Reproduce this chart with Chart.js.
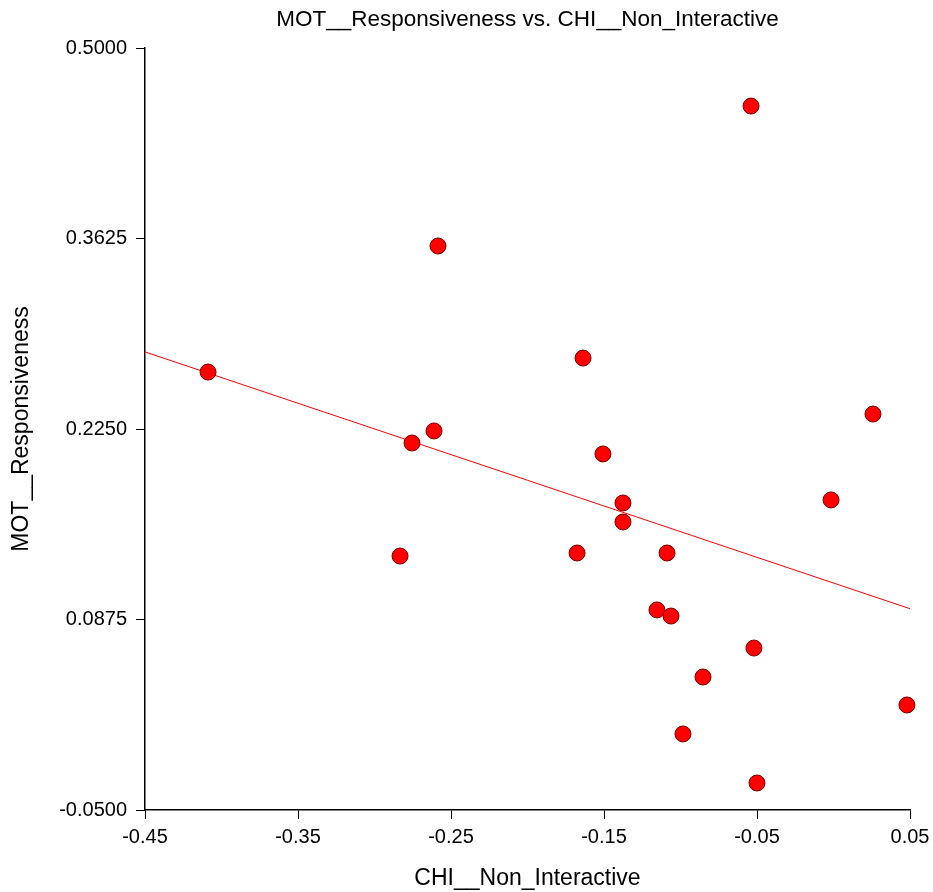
<!DOCTYPE html>
<html>
<head>
<meta charset="utf-8">
<title>MOT__Responsiveness vs. CHI__Non_Interactive</title>
<script src="https://cdn.jsdelivr.net/npm/chart.js@4.4.1/dist/chart.umd.min.js"></script>
<style>
  html, body { margin: 0; padding: 0; background: #fff; }
  #wrap { width: 933px; height: 892px; }
</style>
</head>
<body>
<div id="wrap"><canvas id="scatterChart" width="933" height="892"></canvas></div>
<script>
// 데이터
const chiNonInteractive = [
  -0.4088, -0.2585, -0.2755, -0.2611, -0.2833, -0.1637, -0.1507,
  -0.1376, -0.1376, -0.1676, -0.1088, -0.1154, -0.1062, -0.0539,
  -0.0520, -0.0853, -0.0984, -0.0500, -0.0016, 0.0258, 0.0480
];
const motResponsiveness = [
  0.2661, 0.3571, 0.2149, 0.2236, 0.1333, 0.2762, 0.2070,
  0.1716, 0.1579, 0.1355, 0.1355, 0.0944, 0.0900, 0.4581,
  0.0669, 0.0460, 0.0049, -0.0305, 0.1738, 0.2358, 0.0258
];
const xTicks = [-0.45, -0.35, -0.25, -0.15, -0.05, 0.05];
const yTicks = [-0.05, 0.0875, 0.225, 0.3625, 0.5];

const titleText = "MOT__Responsiveness vs. CHI__Non_Interactive";
const xTitle = "CHI__Non_Interactive";
const yTitle = "MOT__Responsiveness";

const FONT = "'Liberation Sans', Arial, sans-serif";

document.addEventListener("DOMContentLoaded", function () {
  if (typeof Chart === "undefined") {
    console.error("Chart is undefined");
    return;
  }

  const points = chiNonInteractive.map((x, i) => ({ x: x, y: motResponsiveness[i] }));

  // 최소제곱 회귀선
  function linearFit(xs, ys) {
    const n = xs.length;
    const mx = xs.reduce((a, b) => a + b, 0) / n;
    const my = ys.reduce((a, b) => a + b, 0) / n;
    let sxy = 0, sxx = 0;
    for (let i = 0; i < n; i++) {
      sxy += (xs[i] - mx) * (ys[i] - my);
      sxx += (xs[i] - mx) * (xs[i] - mx);
    }
    const slope = sxy / sxx;
    return { slope: slope, intercept: my - slope * mx };
  }

  const fit = linearFit(chiNonInteractive, motResponsiveness);
  const xMin = xTicks[0];
  const xMax = xTicks[xTicks.length - 1];
  const fitLine = [xMin, xMax].map((x) => ({ x: x, y: fit.intercept + fit.slope * x }));

  // 제목: 플롯 영역 가운데 위에 직접 그림
  const titlePlugin = {
    id: "plotTitle",
    afterDraw(chart) {
      const ctx = chart.ctx;
      const area = chart.chartArea;
      ctx.save();
      ctx.font = "22.5px " + FONT;
      ctx.fillStyle = "#000";
      ctx.textAlign = "center";
      ctx.textBaseline = "middle";
      ctx.fillText(titleText, (area.left + area.right) / 2, 20);
      ctx.restore();
    },
  };

  const axisGrid = {
    display: true,
    drawOnChartArea: false,
    drawTicks: true,
    tickLength: 9,
    color: "#000",
    lineWidth: 1,
  };

  new Chart(document.getElementById("scatterChart").getContext("2d"), {
    type: "scatter",
    data: {
      datasets: [
        {
          type: "line",
          label: "fit",
          data: fitLine,
          borderColor: "#ff0000",
          borderWidth: 1,
          pointRadius: 0,
          fill: false,
          order: 2,
        },
        {
          label: yTitle,
          data: points,
          backgroundColor: "#ff0000",
          borderColor: "#7a0000",
          borderWidth: 1,
          pointRadius: 8,
          pointHoverRadius: 8,
          clip: false,
          order: 1,
        },
      ],
    },
    options: {
      responsive: false,
      animation: false,
      layout: { padding: { top: 48, right: 23, bottom: 0, left: 0 } },
      plugins: {
        legend: { display: false },
        title: { display: false },
        tooltip: { enabled: false },
      },
      scales: {
        x: {
          type: "linear",
          min: xMin,
          max: xMax,
          afterBuildTicks: (scale) => { scale.ticks = xTicks.map((v) => ({ value: v })); },
          afterFit: (scale) => {
            scale.height = 82;
            // 마지막 라벨 때문에 오른쪽 여백이 늘어나지 않도록
            scale.paddingLeft = 0;
            scale.paddingRight = 20;
          },
          grid: axisGrid,
          border: { display: true, color: "#000", width: 1.5 },
          ticks: {
            color: "#000",
            font: { family: FONT, size: 20 },
            padding: 6,
            maxRotation: 0,
            callback: (v) => Number(v).toFixed(2),
          },
          title: {
            display: true,
            text: xTitle,
            color: "#000",
            font: { family: FONT, size: 23 },
            padding: { top: 0, bottom: 0 },
          },
        },
        y: {
          type: "linear",
          min: yTicks[0],
          max: yTicks[yTicks.length - 1],
          afterBuildTicks: (scale) => { scale.ticks = yTicks.map((v) => ({ value: v })); },
          afterFit: (scale) => {
            scale.width = 145;
            scale.paddingTop = 10;
            scale.paddingBottom = 10;
          },
          grid: axisGrid,
          border: { display: true, color: "#000", width: 1.5 },
          ticks: {
            color: "#000",
            font: { family: FONT, size: 20 },
            padding: 9,
            callback: (v) => Number(v).toFixed(4),
          },
          title: {
            display: true,
            text: yTitle,
            color: "#000",
            font: { family: FONT, size: 23 },
            padding: { top: 8, bottom: 0 },
          },
        },
      },
    },
    plugins: [titlePlugin],
  });
});
</script>
</body>
</html>
